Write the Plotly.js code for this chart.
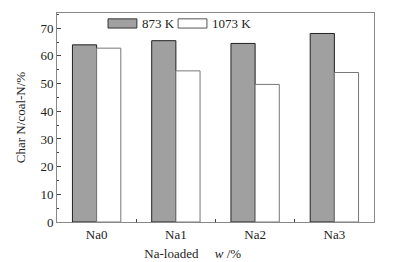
<!DOCTYPE html>
<html>
<head>
<meta charset="utf-8">
<script src="https://cdn.plot.ly/plotly-3.0.1.min.js"></script>
<style>html,body{margin:0;padding:0;background:#fff;}#chart{width:397px;height:262px;}</style>
</head>
<body>
<div id="chart"></div>
<script>
const categories = ["Na0", "Na1", "Na2", "Na3"];
const series873 = [64.0, 65.5, 64.5, 68.1];
const series1073 = [62.8, 54.6, 49.7, 54.0];
const seriesNames = ["873 K", "1073 K"];
const yTickVals = [0, 10, 20, 30, 40, 50, 60, 70];

const font = {family: "Liberation Serif, Times New Roman, serif", size: 13, color: "#222"};

const traces = [
  {type: "bar", x: categories, y: series873, name: seriesNames[0],
   marker: {color: "#a0a0a0", line: {color: "#222", width: 1}}, showlegend: false},
  {type: "bar", x: categories, y: series1073, name: seriesNames[1],
   marker: {color: "#ffffff", line: {color: "#777", width: 1}}, showlegend: false}
];

const pad = "&nbsp;".repeat(14);
const layout = {
  width: 397, height: 262,
  margin: {l: 57, r: 23, t: 13, b: 40},
  paper_bgcolor: "#fff", plot_bgcolor: "#fff",
  font: font,
  barmode: "group", bargap: 0.39, bargroupgap: 0,
  xaxis: {
    tickson: "boundaries", ticks: "inside", ticklen: 3, tickcolor: "#444",
    showline: true, linecolor: "#888", linewidth: 1, mirror: true,
    showgrid: false, zeroline: false, tickfont: font,
    title: {text: "Na-loaded&nbsp;&nbsp;&nbsp;&nbsp;&nbsp;<i>w</i> /%" + pad, font: font, standoff: 8}
  },
  yaxis: {
    range: [0, 75.5], tickvals: yTickVals, ticks: "inside", ticklen: 4, tickcolor: "#444",
    minor: {dtick: 5, ticks: "inside", ticklen: 2, tickcolor: "#444"},
    showline: true, linecolor: "#888", linewidth: 1, mirror: true,
    showgrid: false, zeroline: false, tickfont: font,
    title: {text: "Char N/coal-N/%", font: font, standoff: 11}
  },
  shapes: [
    {type: "rect", xref: "paper", yref: "paper", x0: 0.161, x1: 0.252, y0: 0.928, y1: 0.972,
     fillcolor: "#a0a0a0", line: {color: "#333", width: 1}},
    {type: "rect", xref: "paper", yref: "paper", x0: 0.382, x1: 0.473, y0: 0.928, y1: 0.972,
     fillcolor: "#fff", line: {color: "#555", width: 1}}
  ],
  annotations: [
    {xref: "paper", yref: "paper", x: 0.262, y: 0.95, text: seriesNames[0], showarrow: false,
     xanchor: "left", yanchor: "middle", font: font},
    {xref: "paper", yref: "paper", x: 0.483, y: 0.95, text: seriesNames[1], showarrow: false,
     xanchor: "left", yanchor: "middle", font: font}
  ]
};

Plotly.newPlot("chart", traces, layout, {displayModeBar: false, staticPlot: true});
</script>
</body>
</html>
